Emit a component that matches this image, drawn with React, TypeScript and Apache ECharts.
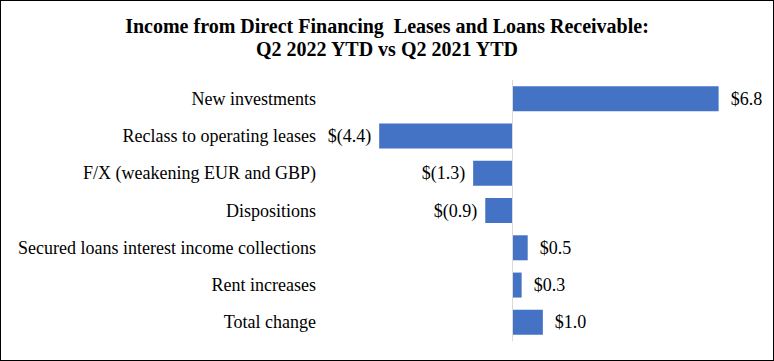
import React, { useEffect, useRef } from "react";
import * as echarts from "echarts";

const categories = [
  "New investments",
  "Reclass to operating leases",
  "F/X (weakening EUR and GBP)",
  "Dispositions",
  "Secured loans interest income collections",
  "Rent increases",
  "Total change",
];
const values = [6.8, -4.4, -1.3, -0.9, 0.5, 0.3, 1.0];
const titleLines = [
  "Income from Direct Financing  Leases and Loans Receivable:",
  "Q2 2022 YTD vs Q2 2021 YTD",
];

const FONT = "Liberation Serif";

const fmt = (v: number) =>
  v < 0 ? `$(${Math.abs(v).toFixed(1)})` : `$${v.toFixed(1)}`;

export default function App() {
  const ref = useRef<HTMLDivElement>(null);
  useEffect(() => {
    document.body.style.margin = "0";
    const chart = echarts.init(ref.current!, null, { renderer: "svg" });
    chart.setOption({
      animation: false,
      title: {
        text: titleLines.join("\n"),
        left: "center",
        top: 8,
        textStyle: {
          fontFamily: FONT,
          fontWeight: "bold",
          fontSize: 20,
          lineHeight: 23,
          color: "#000",
        },
      },
      grid: { left: 360, right: 18, top: 79, bottom: 19 },
      xAxis: {
        type: "value",
        min: -5,
        max: 8,
        show: false,
        splitLine: { show: false },
      },
      yAxis: {
        type: "category",
        data: categories,
        inverse: true,
        axisLine: { show: false, onZero: false },
        axisTick: { show: false },
        axisLabel: {
          margin: 45,
          fontFamily: FONT,
          fontSize: 18,
          color: "#000",
        },
      },
      series: [
        {
          type: "bar",
          barWidth: 25,
          itemStyle: { color: "#4472C4" },
          data: values.map((v) => ({
            value: v,
            label: {
              show: true,
              position: v < 0 ? "left" : "right",
              distance: v < 0 ? 8 : 12,
              formatter: () => fmt(v),
              fontFamily: FONT,
              fontSize: 18,
              color: "#000",
            },
          })),
          markLine: {
            silent: true,
            symbol: "none",
            label: { show: false },
            lineStyle: { color: "#d9d9d9", type: "solid", width: 1 },
            data: [{ xAxis: 0 }],
          },
        },
      ],
    });
    return () => chart.dispose();
  }, []);
  return (
    <div
      ref={ref}
      style={{
        position: "fixed",
        left: 0,
        top: 0,
        width: 774,
        height: 361,
        border: "1px solid #000",
        boxSizing: "border-box",
        background: "#fff",
      }}
    />
  );
}
